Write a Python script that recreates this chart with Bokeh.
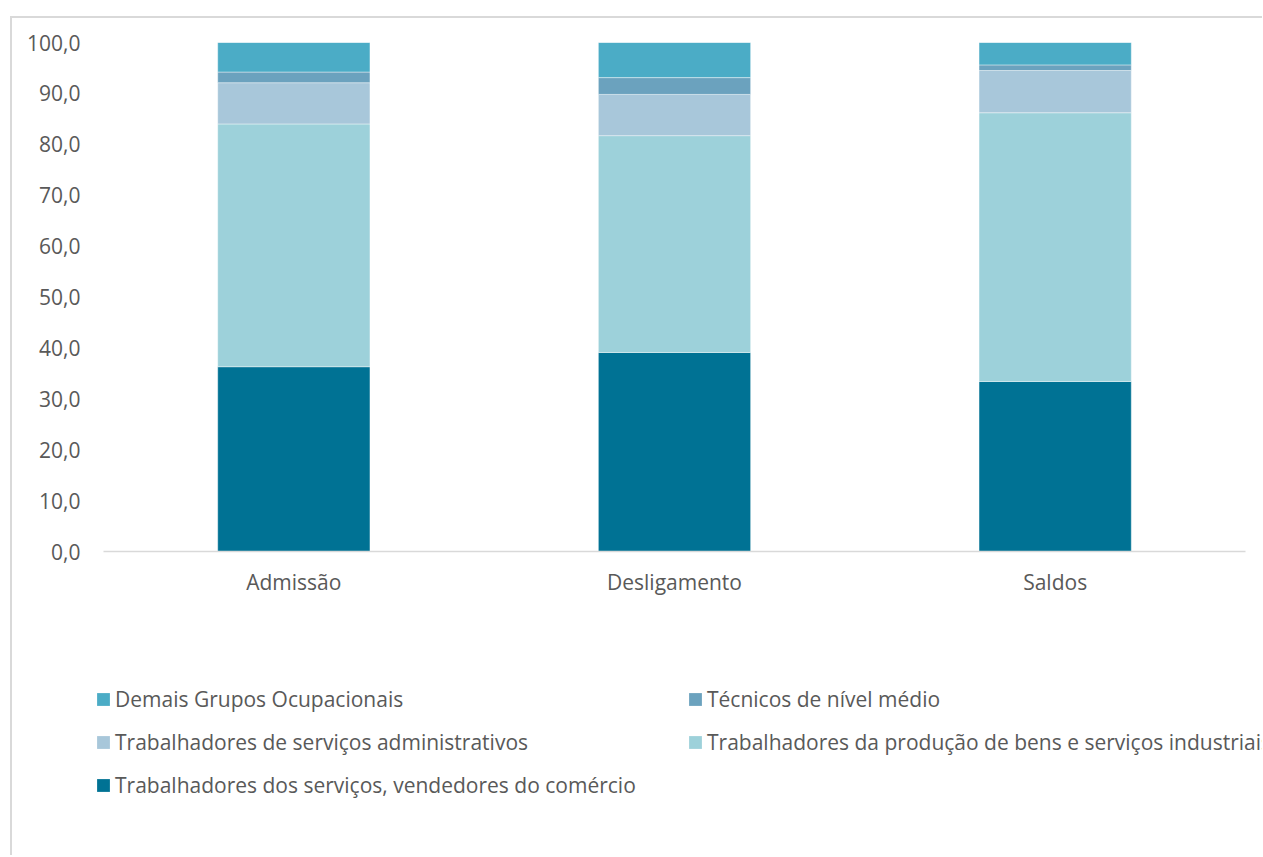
from bokeh.plotting import figure
from bokeh.layouts import column
from bokeh.models import FactorRange, Legend, LegendItem, CustomJSTickFormatter, FixedTicker
from bokeh.embed import file_html
from bokeh.resources import INLINE

categories = ["Admissão", "Desligamento", "Saldos"]
series_names = [
    "Trabalhadores dos serviços, vendedores do comércio",
    "Trabalhadores da produção de bens e serviços industriais",
    "Trabalhadores de serviços administrativos",
    "Técnicos de nível médio",
    "Demais Grupos Ocupacionais",
]
vendedores = [36.3, 39.1, 33.4]
producao = [47.7, 42.6, 52.8]
administrativos = [8.1, 8.1, 8.3]
tecnicos = [2.1, 3.3, 1.1]
demais = [5.8, 6.9, 4.4]
y_ticks = [0, 10, 20, 30, 40, 50, 60, 70, 80, 90, 100]

colors = ["#007294", "#9DD1DA", "#A8C7DA", "#6BA2BE", "#4BACC6"]
keys = ["vendedores", "producao", "administrativos", "tecnicos", "demais"]
data = dict(cat=categories, vendedores=vendedores, producao=producao,
            administrativos=administrativos, tecnicos=tecnicos, demais=demais)

FONT = "Open Sans"
TXT = "#595959"
FS = "21px"
W = 1262

# main chart
p = figure(x_range=FactorRange(*categories, range_padding=0), y_range=(0, 100),
           width=W, height=640, output_backend="svg", toolbar_location=None,
           min_border_left=103, min_border_top=42, min_border_right=W - 1245, min_border_bottom=89)
p.frame_align = False

p.vbar_stack(keys, x="cat", width=0.4, source=data, color=colors,
             line_color="white", line_width=0.6, line_alpha=0.7)

p.xgrid.visible = False
p.ygrid.visible = False
p.outline_line_color = None
p.border_fill_color = None

p.yaxis.ticker = FixedTicker(ticks=y_ticks)
p.yaxis.formatter = CustomJSTickFormatter(code="return tick.toFixed(1).replace('.', ',');")
p.yaxis.axis_line_color = None
p.yaxis.major_tick_line_color = None
p.yaxis.minor_tick_line_color = None
p.yaxis.major_label_standoff = 17
p.yaxis.major_label_text_font = FONT
p.yaxis.major_label_text_font_size = FS
p.yaxis.major_label_text_color = TXT

p.xaxis.axis_line_color = "#D9D9D9"
p.xaxis.axis_line_width = 1.5
p.xaxis.major_tick_line_color = None
p.xaxis.minor_tick_line_color = None
p.xaxis.major_label_standoff = 10
p.xaxis.major_label_text_font = FONT
p.xaxis.major_label_text_font_size = FS
p.xaxis.major_label_text_color = TXT

# legend strip (same series; its bars fall outside this strip's visible range)
pl = figure(x_range=FactorRange(*categories), y_range=(200, 300),
            width=W, height=215, output_backend="svg", toolbar_location=None,
            x_axis_location=None, y_axis_location=None, min_border=0)
pl.frame_align = False
lr = pl.vbar_stack(keys, x="cat", width=0.4, source=data, color=colors, line_color=None)
pl.xgrid.visible = False
pl.ygrid.visible = False
pl.outline_line_color = None
pl.border_fill_color = None
pl.background_fill_color = None

order = [4, 3, 2, 1, 0]
items = [LegendItem(label=series_names[i], renderers=[lr[i]]) for i in order]
legend = Legend(items=items, orientation="horizontal", ncols=2,
                location=(95, 56), padding=0, margin=0, spacing=15,
                glyph_width=16, glyph_height=16, label_standoff=4,
                label_width=557, label_height=28,
                label_text_font=FONT, label_text_font_size=FS,
                label_text_color=TXT, border_line_color=None,
                background_fill_alpha=0)
pl.add_layout(legend, "center")

layout = column(p, pl, spacing=0,
                styles={"background": "linear-gradient(#D9D9D9,#D9D9D9) 10px 16px / 2px 100% no-repeat, "
                                      "linear-gradient(#D9D9D9,#D9D9D9) 10px 16px / 100% 2px no-repeat, white"})

open("out.html", "w").write(file_html(layout, INLINE))
